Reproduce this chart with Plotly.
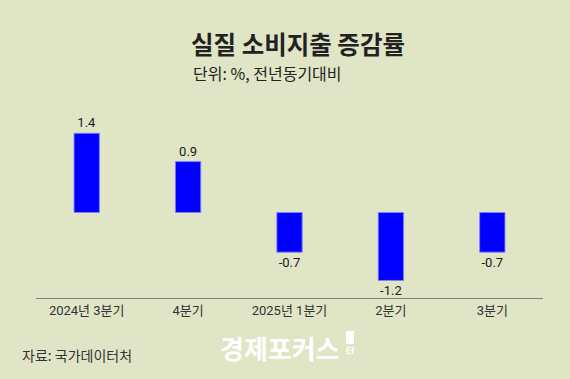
import plotly.graph_objects as go

categories = ["2024년 3분기", "4분기", "2025년 1분기", "2분기", "3분기"]
values = [1.4, 0.9, -0.7, -1.2, -0.7]
value_labels = ["1.4", "0.9", "-0.7", "-1.2", "-0.7"]

title_text = "실질 소비지출 증감률"
subtitle_text = "단위: %, 전년동기대비"
source_text = "자료: 국가데이터처"
logo_text = "경제포커스"

BG = "#dfe5c5"
FONT = "Roboto, Noto Sans CJK KR, sans-serif"

fig = go.Figure()
fig.add_trace(go.Bar(
    x=categories, y=values,
    width=0.25,
    marker=dict(color="#0000ff", line=dict(color="rgba(130,130,255,0.9)", width=1)),
    text=value_labels, textposition="outside",
    textfont=dict(family=FONT, size=13, color="#1a1a1a"),
    cliponaxis=False,
    hoverinfo="skip",
))

fig.update_layout(
    width=570, height=379,
    margin=dict(l=36, r=27, t=100, b=81),
    paper_bgcolor=BG, plot_bgcolor=BG,
    showlegend=False,
    xaxis=dict(type="category", showline=True, linecolor="#80846e", linewidth=1,
               ticks="", showgrid=False, zeroline=False,
               tickfont=dict(family=FONT, size=13, color="#333333"),
               fixedrange=True),
    yaxis=dict(range=[-1.51, 1.988], visible=False, showgrid=False, zeroline=False,
               fixedrange=True),
    annotations=[
        dict(text=f"<b>{title_text}</b>", x=298, y=43, xref="paper", yref="paper",
             showarrow=False, xanchor="center", yanchor="middle",
             font=dict(family="Noto Sans CJK KR", size=24.5, color="#222222")),
        dict(text=subtitle_text, x=191, y=73, xanchor="left", yanchor="middle",
             showarrow=False, font=dict(family="Noto Sans CJK KR", size=16, color="#222222")),
        dict(text=source_text, x=20, y=355, xanchor="left", yanchor="middle",
             showarrow=False, font=dict(family="Noto Sans CJK KR", size=14, color="#333333")),
        dict(text=f"<b>{logo_text}</b>", x=218, y=347, xanchor="left", yanchor="middle",
             showarrow=False, font=dict(family="Noto Sans CJK KR", size=26, color="#ffffff")),
        dict(text="<b>Ef</b>", x=350, y=351, xanchor="center", yanchor="middle",
             showarrow=False, font=dict(family="Roboto", size=9, color="#ffffff")),
    ],
    shapes=[
        dict(type="rect", xref="paper", yref="paper", x0=346, x1=354, y0=331, y1=344,
             fillcolor="#ffffff", line=dict(width=0)),
    ],
)

# convert pixel-specified annotation/shape positions to paper coordinates
pw = 570 - 36 - 27
ph = 379 - 100 - 81
def px_to_paper_x(px):
    return (px - 36) / pw
def px_to_paper_y(py):
    return 1 - (py - 100) / ph

for a in fig.layout.annotations:
    a.xref = "paper"; a.yref = "paper"
    a.x = px_to_paper_x(a.x)
    a.y = px_to_paper_y(a.y)
for s in fig.layout.shapes:
    s.x0 = px_to_paper_x(s.x0); s.x1 = px_to_paper_x(s.x1)
    y0, y1 = px_to_paper_y(s.y0), px_to_paper_y(s.y1)
    s.y0, s.y1 = y1, y0

fig.write_html("out.html", config={"displayModeBar": False},
               post_script="document.body.style.margin='0';document.body.style.overflow='hidden';")
